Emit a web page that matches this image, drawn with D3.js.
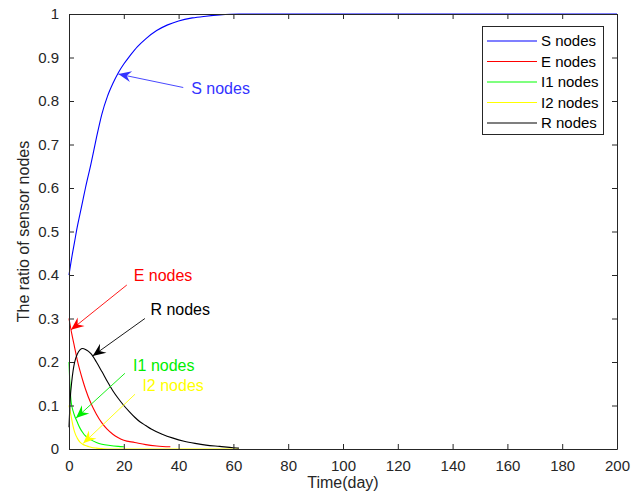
<!DOCTYPE html>
<html>
<head>
<meta charset="utf-8">
<script src="https://cdn.jsdelivr.net/npm/d3@7"></script>
<style>
  body { margin: 0; background: #fff; }
  svg { display: block; font-family: "Liberation Sans", Arial, sans-serif; }
</style>
</head>
<body>
<div id="chart"></div>
<script>
// Series data (time in days, ratio of nodes)
const sDays = [0, 1, 2, 3, 4, 5, 6, 8, 10, 12, 14, 16, 18, 20, 22, 25, 28, 32, 36, 40, 45, 50, 55, 62, 200];
const sNodes = [0.40, 0.44, 0.475, 0.51, 0.54, 0.57, 0.60, 0.655, 0.715, 0.77, 0.81, 0.84, 0.865, 0.885, 0.902, 0.925, 0.943, 0.962, 0.975, 0.984, 0.991, 0.995, 0.998, 1.0, 1.0];

const eDays = [0, 1, 2, 3, 4, 5, 6, 8, 10, 12, 14, 16, 18, 20, 24, 28, 32, 37];
const eNodes = [0.30, 0.265, 0.235, 0.205, 0.18, 0.158, 0.138, 0.105, 0.08, 0.06, 0.045, 0.034, 0.026, 0.02, 0.015, 0.01, 0.007, 0.005];

const i1Days = [0, 0.25, 0.5, 0.75, 1, 1.5, 2, 3, 4, 5, 6, 8, 10, 12, 15, 18, 20];
const i1Nodes = [0.2, 0.16, 0.13, 0.11, 0.1, 0.087, 0.077, 0.062, 0.048, 0.038, 0.03, 0.021, 0.015, 0.011, 0.008, 0.006, 0.005];

const i2Days = [0, 0.5, 1, 1.5, 2, 3, 4, 5, 6, 7, 8, 10, 12, 15, 62];
const i2Nodes = [0.1, 0.085, 0.068, 0.052, 0.04, 0.025, 0.016, 0.011, 0.008, 0.006, 0.004, 0.002, 0.001, 0, 0];

const rDays = [0, 0.5, 1, 1.5, 2, 3, 4, 5, 6, 7, 8, 10, 12, 14, 16, 18, 20, 22, 24, 26, 28, 30, 34, 38, 42, 46, 50, 55, 60, 62];
const rNodes = [0.05, 0.12, 0.155, 0.18, 0.198, 0.218, 0.228, 0.231, 0.229, 0.225, 0.219, 0.2, 0.178, 0.155, 0.134, 0.116, 0.1, 0.086, 0.073, 0.062, 0.054, 0.046, 0.034, 0.025, 0.018, 0.013, 0.009, 0.006, 0.003, 0.002];

const seriesNames = ['S nodes', 'E nodes', 'I1 nodes', 'I2 nodes', 'R nodes'];
const seriesColors = ['#0000ff', '#ff0000', '#00ff00', '#ffff00', '#000000'];

const xTicks = [0, 20, 40, 60, 80, 100, 120, 140, 160, 180, 200];
const yTicks = [0, 0.1, 0.2, 0.3, 0.4, 0.5, 0.6, 0.7, 0.8, 0.9, 1];

// Callout labels: arrow tail, arrow tip and text anchor in data units
const calloutNames = ['S nodes', 'E nodes', 'R nodes', 'I1 nodes', 'I2 nodes'];
const calloutColors = ['#3333ff', '#ff0000', '#000000', '#00ee00', '#ffff00'];
const calloutTail = [[41.7, 0.831], [21.1, 0.377], [27.7, 0.30], [20.4, 0.174], [24.1, 0.126]];
const calloutTip = [[18, 0.862], [0.73, 0.274], [8.65, 0.214], [2.55, 0.071], [5.2, 0.013]];
const calloutText = [[44.6, 0.829], [23.6, 0.40], [29.7, 0.321], [23.4, 0.193], [26.8, 0.147]];

const width = 631;
const height = 499;
const margin = { top: 14, right: 14, bottom: 50, left: 69 };
const ink = '#262626';

const svg = d3.select('#chart')
    .append('svg')
    .attr('width', width)
    .attr('height', height);

svg.append('rect').attr('width', width).attr('height', height).attr('fill', '#fff');

const x = d3.scaleLinear().domain([0, 200]).range([margin.left, width - margin.right]);
const y = d3.scaleLinear().domain([0, 1]).range([height - margin.bottom, margin.top]);

// Curves
const series = [
    [sDays, sNodes], [eDays, eNodes], [i1Days, i1Nodes], [i2Days, i2Nodes], [rDays, rNodes]
];

const line = d3.line()
    .x(d => x(d[0]))
    .y(d => y(d[1]))
    .curve(d3.curveMonotoneX);

series.forEach(([days, vals], i) => {
    svg.append('path')
        .datum(days.map((t, k) => [t, vals[k]]))
        .attr('fill', 'none')
        .attr('stroke', seriesColors[i])
        .attr('stroke-width', 1.1)
        .attr('d', line);
});

// Axes with inward ticks on all four sides
const tickFont = 15;
const xAxis = d3.axisBottom(x).tickValues(xTicks).tickSizeInner(-5).tickSizeOuter(0).tickPadding(11);
const yAxis = d3.axisLeft(y).tickValues(yTicks).tickFormat(d3.format('~g')).tickSizeInner(-5).tickSizeOuter(0).tickPadding(10);

const gx = svg.append('g').attr('transform', `translate(0,${height - margin.bottom})`).call(xAxis);
const gy = svg.append('g').attr('transform', `translate(${margin.left},0)`).call(yAxis);
const gxTop = svg.append('g').attr('transform', `translate(0,${margin.top})`)
    .call(d3.axisTop(x).tickValues(xTicks).tickSizeInner(-5).tickSizeOuter(0).tickFormat(''));
const gyRight = svg.append('g').attr('transform', `translate(${width - margin.right},0)`)
    .call(d3.axisRight(y).tickValues(yTicks).tickSizeInner(-5).tickSizeOuter(0).tickFormat(''));

[gx, gy, gxTop, gyRight].forEach(g => {
    g.select('.domain').attr('stroke', ink);
    g.selectAll('.tick line').attr('stroke', ink);
    g.selectAll('.tick text')
        .attr('fill', ink)
        .style('font-size', tickFont + 'px')
        .style('font-family', '"Liberation Sans", Arial, sans-serif');
});

// Axis titles
svg.append('text')
    .attr('x', (x(0) + x(200)) / 2)
    .attr('y', 488)
    .attr('text-anchor', 'middle')
    .attr('fill', ink)
    .style('font-size', '16px')
    .text('Time(day)');

svg.append('text')
    .attr('transform', `translate(29,${(y(0) + y(1)) / 2}) rotate(-90)`)
    .attr('text-anchor', 'middle')
    .attr('fill', ink)
    .style('font-size', '16px')
    .text('The ratio of sensor nodes');

// Callout arrows with filled notched heads
function arrowHead(tx, ty, fx, fy) {
    const ang = Math.atan2(ty - fy, tx - fx);
    const L = 13, W = 5.5, N = 8.5;
    const pts = [[0, 0], [-L, W], [-N, 0], [-L, -W]].map(([a, b]) => [
        tx + a * Math.cos(ang) - b * Math.sin(ang),
        ty + a * Math.sin(ang) + b * Math.cos(ang)
    ]);
    return 'M' + pts.map(p => p.join(',')).join('L') + 'Z';
}

calloutNames.forEach((name, i) => {
    const [t0, v0] = calloutTail[i];
    const [t1, v1] = calloutTip[i];
    const [tt, tv] = calloutText[i];
    const fx = x(t0), fy = y(v0), tx = x(t1), ty = y(v1);
    svg.append('line')
        .attr('x1', fx).attr('y1', fy).attr('x2', tx).attr('y2', ty)
        .attr('stroke', calloutColors[i])
        .attr('stroke-width', 0.9);
    svg.append('path')
        .attr('d', arrowHead(tx, ty, fx, fy))
        .attr('fill', calloutColors[i]);
    svg.append('text')
        .attr('x', x(tt))
        .attr('y', y(tv))
        .attr('dy', '0.35em')
        .attr('fill', calloutColors[i])
        .style('font-size', '16px')
        .text(name);
});

// Legend
const legend = svg.append('g');
legend.append('rect')
    .attr('x', 482.5).attr('y', 26.5)
    .attr('width', 121).attr('height', 108)
    .attr('fill', '#fff')
    .attr('stroke', ink)
    .attr('stroke-width', 1);

seriesNames.forEach((name, i) => {
    const rowY = 41 + i * 20.5;
    legend.append('line')
        .attr('x1', 487).attr('x2', 537)
        .attr('y1', rowY).attr('y2', rowY)
        .attr('stroke', seriesColors[i])
        .attr('stroke-width', 1.1);
    legend.append('text')
        .attr('x', 541)
        .attr('y', rowY)
        .attr('dy', '0.35em')
        .attr('fill', '#000')
        .style('font-size', '15px')
        .text(name);
});
</script>
</body>
</html>
